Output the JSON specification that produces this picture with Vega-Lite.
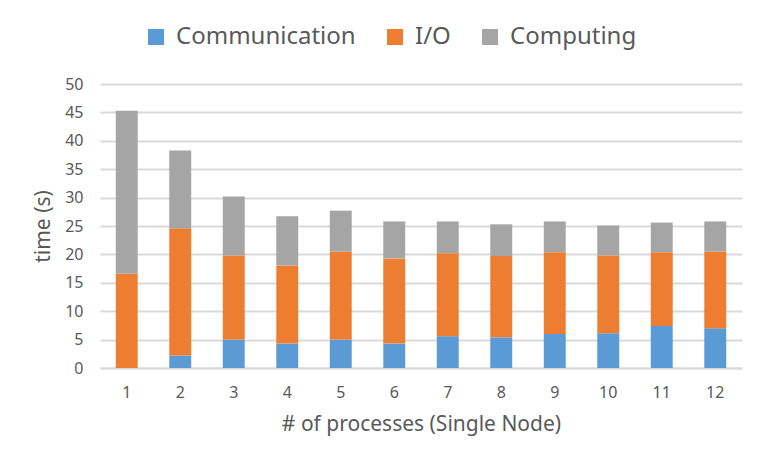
{
  "$schema": "https://vega.github.io/schema/vega-lite/v6.json",
  "width": 642,
  "height": 284,
  "autosize": "none",
  "padding": {"left": 100, "top": 84, "right": 24, "bottom": 99},
  "background": "white",
  "data": {
    "values": [
      {"p": "1", "type": "Communication", "o": 1, "t": 0},
      {"p": "1", "type": "I/O", "o": 2, "t": 16.6},
      {"p": "1", "type": "Computing", "o": 3, "t": 28.7},
      {"p": "2", "type": "Communication", "o": 1, "t": 2.2},
      {"p": "2", "type": "I/O", "o": 2, "t": 22.4},
      {"p": "2", "type": "Computing", "o": 3, "t": 13.7},
      {"p": "3", "type": "Communication", "o": 1, "t": 5.0},
      {"p": "3", "type": "I/O", "o": 2, "t": 14.8},
      {"p": "3", "type": "Computing", "o": 3, "t": 10.4},
      {"p": "4", "type": "Communication", "o": 1, "t": 4.3},
      {"p": "4", "type": "I/O", "o": 2, "t": 13.75},
      {"p": "4", "type": "Computing", "o": 3, "t": 8.65},
      {"p": "5", "type": "Communication", "o": 1, "t": 5.0},
      {"p": "5", "type": "I/O", "o": 2, "t": 15.5},
      {"p": "5", "type": "Computing", "o": 3, "t": 7.2},
      {"p": "6", "type": "Communication", "o": 1, "t": 4.3},
      {"p": "6", "type": "I/O", "o": 2, "t": 15.0},
      {"p": "6", "type": "Computing", "o": 3, "t": 6.5},
      {"p": "7", "type": "Communication", "o": 1, "t": 5.6},
      {"p": "7", "type": "I/O", "o": 2, "t": 14.6},
      {"p": "7", "type": "Computing", "o": 3, "t": 5.6},
      {"p": "8", "type": "Communication", "o": 1, "t": 5.4},
      {"p": "8", "type": "I/O", "o": 2, "t": 14.3},
      {"p": "8", "type": "Computing", "o": 3, "t": 5.6},
      {"p": "9", "type": "Communication", "o": 1, "t": 6.0},
      {"p": "9", "type": "I/O", "o": 2, "t": 14.4},
      {"p": "9", "type": "Computing", "o": 3, "t": 5.4},
      {"p": "10", "type": "Communication", "o": 1, "t": 6.1},
      {"p": "10", "type": "I/O", "o": 2, "t": 13.7},
      {"p": "10", "type": "Computing", "o": 3, "t": 5.3},
      {"p": "11", "type": "Communication", "o": 1, "t": 7.4},
      {"p": "11", "type": "I/O", "o": 2, "t": 13.0},
      {"p": "11", "type": "Computing", "o": 3, "t": 5.2},
      {"p": "12", "type": "Communication", "o": 1, "t": 7.0},
      {"p": "12", "type": "I/O", "o": 2, "t": 13.5},
      {"p": "12", "type": "Computing", "o": 3, "t": 5.3}
    ]
  },
  "mark": {"type": "bar"},
  "encoding": {
    "x": {
      "field": "p",
      "type": "ordinal",
      "sort": null,
      "scale": {"paddingInner": 0.59, "paddingOuter": 0.295},
      "axis": {
        "title": "# of processes (Single Node)",
        "labelAngle": 0,
        "labelFontSize": 16,
        "labelColor": "#595959",
        "labelPadding": 16,
        "titleFontSize": 21,
        "titleFontWeight": "normal",
        "titleColor": "#595959",
        "titlePadding": 13,
        "ticks": false,
        "domainColor": "#d9d9d9",
        "domainWidth": 2
      }
    },
    "y": {
      "field": "t",
      "type": "quantitative",
      "aggregate": "sum",
      "stack": "zero",
      "scale": {"domain": [0, 50]},
      "axis": {
        "title": "time (s)",
        "values": [0, 5, 10, 15, 20, 25, 30, 35, 40, 45, 50],
        "labelFontSize": 16,
        "labelColor": "#595959",
        "labelPadding": 17,
        "titleFontSize": 21,
        "titleFontWeight": "normal",
        "titleColor": "#595959",
        "titlePadding": 11,
        "ticks": false,
        "domain": false,
        "gridColor": "#d9d9d9",
        "gridWidth": 2
      }
    },
    "color": {
      "field": "type",
      "type": "nominal",
      "scale": {
        "domain": ["Communication", "I/O", "Computing"],
        "range": ["#5B9BD5", "#ED7D31", "#A5A5A5"]
      },
      "legend": {
        "title": null,
        "orient": "none",
        "direction": "horizontal",
        "legendX": 44,
        "legendY": -59,
        "symbolType": "square",
        "symbolSize": 256,
        "symbolStrokeWidth": 0,
        "symbolOpacity": 1,
        "labelFontSize": 24,
        "labelLimit": 0,
        "labelColor": "#595959",
        "columnPadding": 27,
        "labelOffset": 8
      }
    },
    "order": {"field": "o", "type": "quantitative"}
  },
  "config": {
    "font": "Noto Sans",
    "view": {"stroke": null}
  }
}
